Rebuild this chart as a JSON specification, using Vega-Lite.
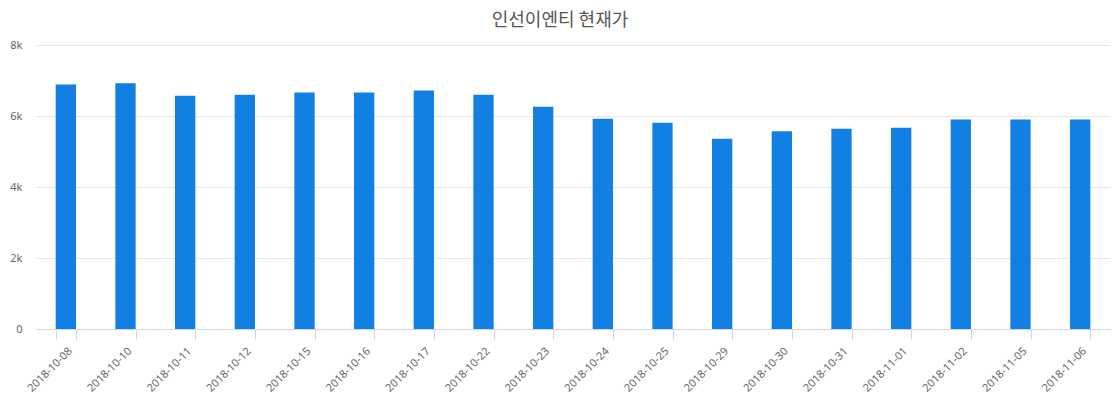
{
  "$schema": "https://vega.github.io/schema/vega-lite/v6.json",
  "autosize": "none",
  "padding": {"left": 36, "top": 45, "right": 10, "bottom": 71},
  "width": 1074,
  "height": 284,
  "background": "#ffffff",
  "title": {
    "text": "인선이엔티 현재가",
    "font": "Noto Sans CJK KR",
    "fontSize": 18,
    "fontWeight": "normal",
    "color": "#555555",
    "anchor": "middle",
    "dx": -13,
    "offset": 9
  },
  "data": {
    "values": [
      {"date": "2018-10-08", "price": 6890},
      {"date": "2018-10-10", "price": 6920},
      {"date": "2018-10-11", "price": 6570},
      {"date": "2018-10-12", "price": 6600},
      {"date": "2018-10-15", "price": 6660},
      {"date": "2018-10-16", "price": 6660},
      {"date": "2018-10-17", "price": 6720},
      {"date": "2018-10-22", "price": 6600},
      {"date": "2018-10-23", "price": 6260},
      {"date": "2018-10-24", "price": 5920},
      {"date": "2018-10-25", "price": 5810},
      {"date": "2018-10-29", "price": 5360},
      {"date": "2018-10-30", "price": 5570},
      {"date": "2018-10-31", "price": 5640},
      {"date": "2018-11-01", "price": 5670},
      {"date": "2018-11-02", "price": 5900},
      {"date": "2018-11-05", "price": 5900},
      {"date": "2018-11-06", "price": 5900}
    ]
  },
  "mark": {"type": "bar", "color": "#127fe3"},
  "encoding": {
    "x": {
      "field": "date",
      "type": "ordinal",
      "sort": null,
      "scale": {"paddingInner": 0.66, "paddingOuter": 0.33},
      "axis": {
        "title": null,
        "labelAngle": -45,
        "labelAlign": "right",
        "labelBaseline": "top",
        "labelFont": "Noto Sans",
        "labelFontSize": 11,
        "labelColor": "#666666",
        "labelPadding": 6,
        "domainColor": "#ccd6eb",
        "tickColor": "#ccd6eb",
        "tickSize": 10,
        "tickBand": "extent",
        "grid": false
      }
    },
    "y": {
      "field": "price",
      "type": "quantitative",
      "scale": {"domain": [0, 8000]},
      "axis": {
        "title": null,
        "values": [0, 2000, 4000, 6000, 8000],
        "labelExpr": "datum.value == 0 ? '0' : (datum.value / 1000) + 'k'",
        "labelFont": "Noto Sans",
        "labelFontSize": 11,
        "labelColor": "#666666",
        "labelPadding": 14,
        "domain": false,
        "ticks": false,
        "gridColor": "#e6e6e6"
      }
    }
  },
  "config": {"view": {"stroke": null}}
}
